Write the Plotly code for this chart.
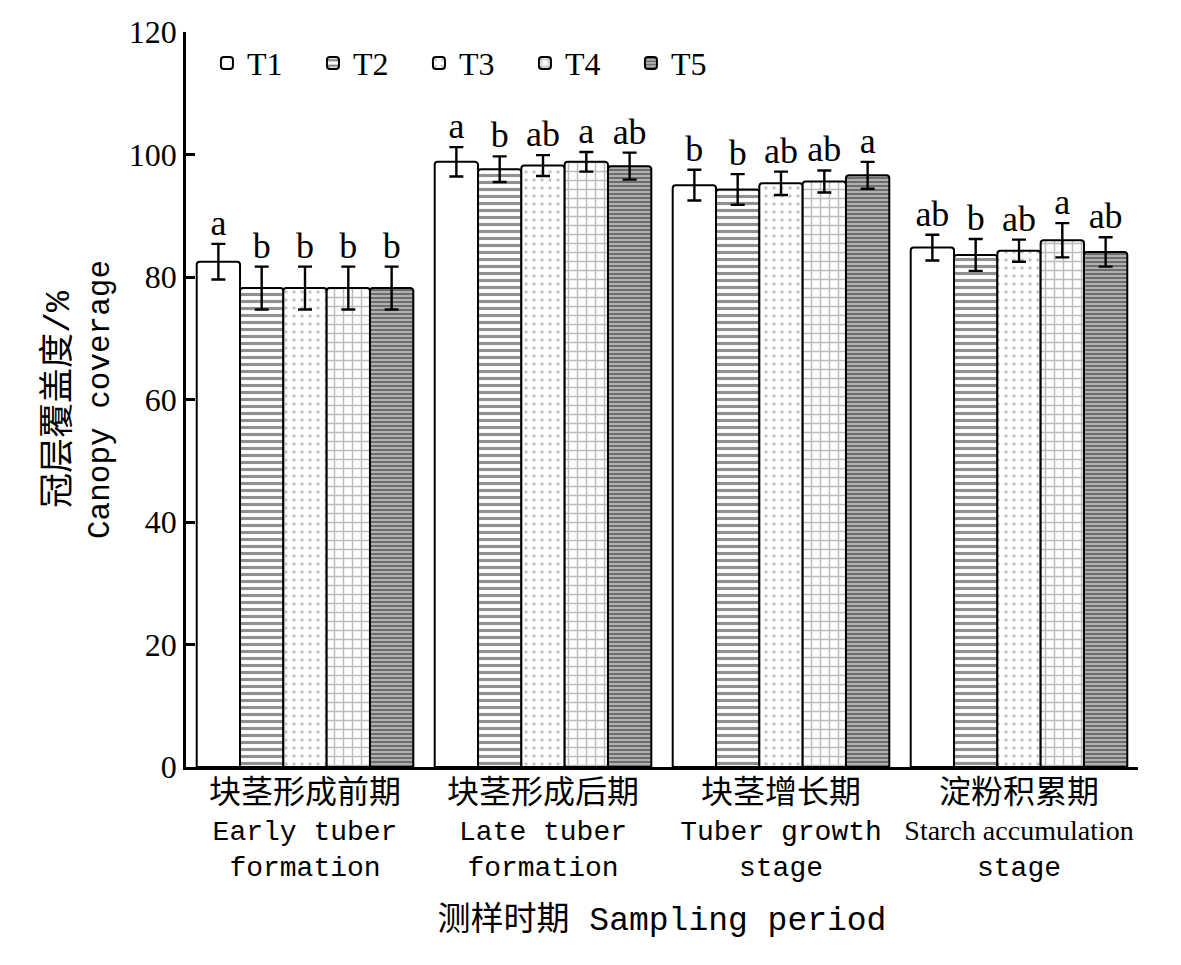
import plotly.graph_objects as go

# sampling periods (x categories)
periods_cn = ["块茎形成前期", "块茎形成后期", "块茎增长期", "淀粉积累期"]
periods_en = ["Early tuber<br>formation", "Late tuber<br>formation",
              "Tuber growth<br>stage",
              '<span style="font-family:Liberation Serif">Starch accumulation</span><br>stage']

treatments = ["T1", "T2", "T3", "T4", "T5"]

# canopy coverage (%) per treatment, one value per period
cov_T1 = [82.5, 98.8, 95.0, 84.8]
cov_T2 = [78.2, 97.6, 94.3, 83.6]
cov_T3 = [78.2, 98.2, 95.3, 84.3]
cov_T4 = [78.2, 98.8, 95.6, 86.0]
cov_T5 = [78.2, 98.1, 96.6, 84.1]

# standard errors
err_T1 = [2.9, 2.4, 2.5, 2.1]
err_T2 = [3.5, 2.1, 2.5, 2.6]
err_T3 = [3.5, 1.7, 1.9, 1.8]
err_T4 = [3.5, 1.6, 1.8, 2.8]
err_T5 = [3.5, 2.2, 2.2, 2.4]

# significance letters
sig_T1 = ["a", "a", "b", "ab"]
sig_T2 = ["b", "b", "b", "b"]
sig_T3 = ["b", "ab", "ab", "ab"]
sig_T4 = ["b", "a", "ab", "a"]
sig_T5 = ["b", "ab", "a", "ab"]

y_ticks = [0, 20, 40, 60, 80, 100, 120]

values = [cov_T1, cov_T2, cov_T3, cov_T4, cov_T5]
errors = [err_T1, err_T2, err_T3, err_T4, err_T5]
letters = [sig_T1, sig_T2, sig_T3, sig_T4, sig_T5]

patterns = [
    dict(shape="", bgcolor="white"),
    dict(shape="-", fgcolor="#222", bgcolor="white", size=7, solidity=0.45),
    dict(shape=".", fgcolor="#888", bgcolor="white", size=8, solidity=0.15),
    dict(shape="+", fgcolor="#777", bgcolor="white", size=9, solidity=0.3),
    dict(shape="-", fgcolor="#2a2a2a", bgcolor="#b0b0b0", size=4, solidity=0.5),
]

bw = 0.182  # bar width in category units
serif = "Liberation Serif, Times New Roman, serif"
mono = "Liberation Mono, Noto Sans CJK SC, monospace"

fig = go.Figure()
for j, name in enumerate(treatments):
    xs = [i + (j - 2) * bw for i in range(len(periods_cn))]
    fig.add_trace(go.Bar(
        x=xs, y=values[j], width=bw, name=name,
        marker=dict(color="white", line=dict(color="black", width=2),
                    pattern=patterns[j], cornerradius=3),
        error_y=dict(type="data", array=errors[j], color="black",
                     thickness=2.4, width=7),
    ))
for j, name in enumerate(treatments):
    xs = [i + (j - 2) * bw for i in range(len(periods_cn))]
    tops = [v + e for v, e in zip(values[j], errors[j])]
    fig.add_trace(go.Scatter(
        x=xs, y=tops, mode="text", text=letters[j],
        textposition="top center", showlegend=False, hoverinfo="skip",
        textfont=dict(family=serif, size=36, color="black"),
    ))

ticktext = ['<span style="font-size:32px">%s</span><br>%s' % (c, e)
            for c, e in zip(periods_cn, periods_en)]

fig.update_layout(
    width=1181, height=965,
    paper_bgcolor="white", plot_bgcolor="white",
    margin=dict(l=178, r=51, t=24, b=206),
    barmode="overlay",
    font=dict(family=serif, color="black"),
    legend=dict(orientation="h", x=0.022, y=0.995, xanchor="left", yanchor="top",
                font=dict(family=serif, size=32), bgcolor="rgba(0,0,0,0)",
                entrywidth=61, entrywidthmode="pixels", itemwidth=30,
                traceorder="normal"),
    xaxis=dict(
        range=[-0.5, 3.5], tickvals=list(range(len(periods_cn))), ticktext=ticktext,
        tickangle=0, automargin=False,
        showline=True, linecolor="black", linewidth=2.5, ticks="",
        showgrid=False, zeroline=False,
        tickfont=dict(family=mono, size=28, color="black"),
        title=dict(text="测样时期 Sampling period",
                   font=dict(family=mono, size=33, color="black"), standoff=24),
    ),
    yaxis=dict(
        range=[0, 120], tickvals=y_ticks, showline=True, linecolor="black",
        linewidth=2.5, ticks="inside", ticklen=9, tickwidth=2.5, tickcolor="black",
        showgrid=False, zeroline=False, automargin=False,
        tickfont=dict(family=serif, size=32, color="black"),
        title=dict(text='<span style="font-size:35px">冠层覆盖度/%</span><br>Canopy coverage',
                   font=dict(family=mono, size=31, color="black"), standoff=10),
    ),
)

fig.write_html("out.html")
